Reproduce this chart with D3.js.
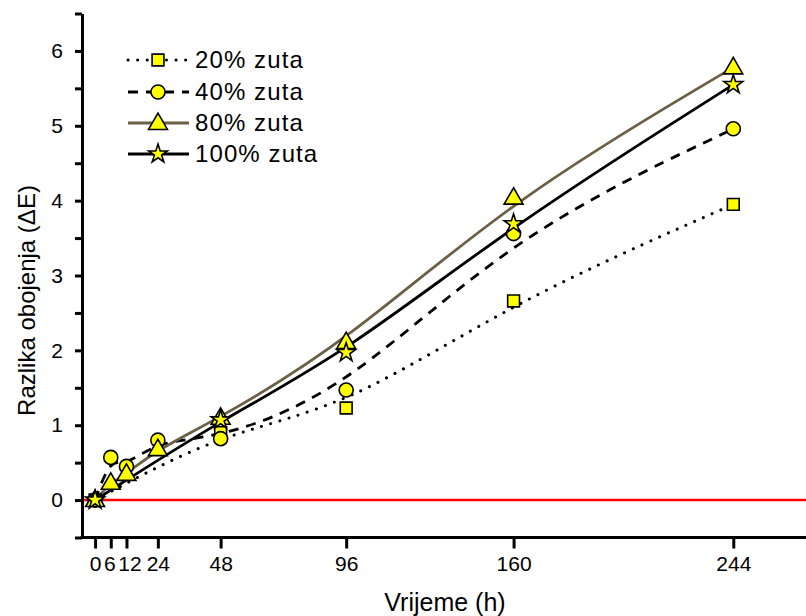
<!DOCTYPE html>
<html><head><meta charset="utf-8">
<script src="https://cdn.jsdelivr.net/npm/d3@7"></script>
<style>body{margin:0;background:#fff}svg{display:block;font-family:"Liberation Sans",Arial,sans-serif}</style>
</head><body><svg id="c" width="806" height="616"></svg>
<script>
const hours = [0, 6, 12, 24, 48, 96, 160, 244];
const seriesNames = ["20% zuta", "40% zuta", "80% zuta", "100% zuta"];
const zuta20 = [0, null, null, null, 0.90, 1.23, 2.66, 3.95];
const zuta40 = [0, 0.57, 0.45, 0.80, 0.82, 1.47, 3.56, 4.96];
const zuta80 = [0, 0.23, 0.35, 0.68, 1.10, 2.11, 4.04, 5.78];
const zuta100 = [0, null, null, null, 1.07, 1.97, 3.69, 5.55];
const yTicks = [0, 1, 2, 3, 4, 5, 6];
const yMinor = [-0.5, 0.5, 1.5, 2.5, 3.5, 4.5, 5.5, 6.5];

const svg = d3.select("#c");
const x = d3.scaleLinear().domain([-5, 271.8]).range([82, 806]);
const y = d3.scaleLinear().domain([-0.5, 6.5]).range([537.5, 13.5]);

const styles = [
  {data: zuta20, color: "#000", width: 3, dash: "0.1 9.5", cap: "round", sym: d3.symbolSquare, size: 140},
  {data: zuta40, color: "#000", width: 2.8, dash: "10 8", cap: "butt", sym: d3.symbolCircle, size: 155},
  {data: zuta80, color: "#6b6046", width: 2.8, dash: null, cap: "butt", sym: d3.symbolTriangle, size: 155},
  {data: zuta100, color: "#000", width: 2.8, dash: null, cap: "butt", sym: d3.symbolStar, size: 110}
];

// red zero line
svg.append("line").attr("x1", x(-5)).attr("x2", 806).attr("y1", y(0)).attr("y2", y(0))
  .attr("stroke", "#ff0000").attr("stroke-width", 2.5);

const line = d3.line().x(d => x(d[0])).y(d => y(d[1])).curve(d3.curveBasis);
const pts = s => hours.map((h, i) => [h, s.data[i]]).filter(d => d[1] != null);

[0, 1, 3, 2].forEach(k => {
  const s = styles[k];
  svg.append("path").attr("d", line(pts(s))).attr("fill", "none")
    .attr("stroke", s.color).attr("stroke-width", s.width)
    .attr("stroke-dasharray", s.dash).attr("stroke-linecap", s.cap);
});
styles.forEach(s => {
  svg.append("g").selectAll("path").data(pts(s)).join("path")
    .attr("d", d3.symbol().type(s.sym).size(s.size))
    .attr("transform", d => `translate(${x(d[0])},${y(d[1]) + (s.sym === d3.symbolTriangle ? 1 : 0)})`)
    .attr("fill", "#ffff00").attr("stroke", "#000").attr("stroke-width", 1.6);
});

// axes
svg.append("g").attr("transform", `translate(${x(-5)},0)`)
  .call(d3.axisLeft(y).tickValues(yTicks).tickFormat(d3.format("d")).tickSize(7).tickSizeOuter(0).tickPadding(12));
svg.append("g").attr("transform", `translate(${x(-5)},0)`)
  .call(d3.axisLeft(y).tickValues(yMinor).tickFormat("").tickSize(7).tickSizeOuter(0))
  .select(".domain").remove();
const xAxis = svg.append("g").attr("transform", `translate(0,${y(-0.5)})`)
  .call(d3.axisBottom(x).tickValues(hours).tickFormat(d3.format("d")).tickSize(11).tickSizeOuter(0).tickPadding(8));
svg.selectAll(".domain").attr("stroke-width", 3).attr("stroke", "#000");
svg.selectAll(".tick line").attr("stroke-width", 3).attr("stroke", "#000");
svg.selectAll(".tick text").attr("font-size", 21).attr("fill", "#000")
  .attr("font-family", '"Liberation Sans",Arial,sans-serif');
xAxis.selectAll(".tick text").attr("dx", d => d === 6 ? -1.5 : d === 12 ? 3 : 0);
xAxis.select(".domain").attr("d", `M${x(-5)-1.5},0H806`);

// axis titles
svg.append("text").attr("transform", `translate(35,${(y(6.5)+y(-0.5))/2 + 25}) rotate(-90)`)
  .attr("text-anchor", "middle").attr("font-size", 24).text("Razlika obojenja (ΔE)");
svg.append("text").attr("x", 445).attr("y", 611).attr("text-anchor", "middle")
  .attr("font-size", 25).text("Vrijeme (h)");

// legend
const legY = [60, 92, 123, 154];
styles.forEach((s, i) => {
  const g = svg.append("g");
  g.append("line").attr("x1", 128).attr("x2", 189).attr("y1", legY[i]).attr("y2", legY[i])
    .attr("stroke", s.color).attr("stroke-width", s.width)
    .attr("stroke-dasharray", s.dash).attr("stroke-linecap", s.cap);
  g.append("path").attr("d", d3.symbol().type(s.sym).size(s.size)())
    .attr("transform", `translate(158,${legY[i] + (s.sym === d3.symbolTriangle ? 1 : 0)})`)
    .attr("fill", "#ffff00").attr("stroke", "#000").attr("stroke-width", 1.6);
  g.append("text").attr("x", 195).attr("y", legY[i] + 8).attr("font-size", 24)
    .attr("letter-spacing", 1.1).text(seriesNames[i]);
});
</script></body></html>
